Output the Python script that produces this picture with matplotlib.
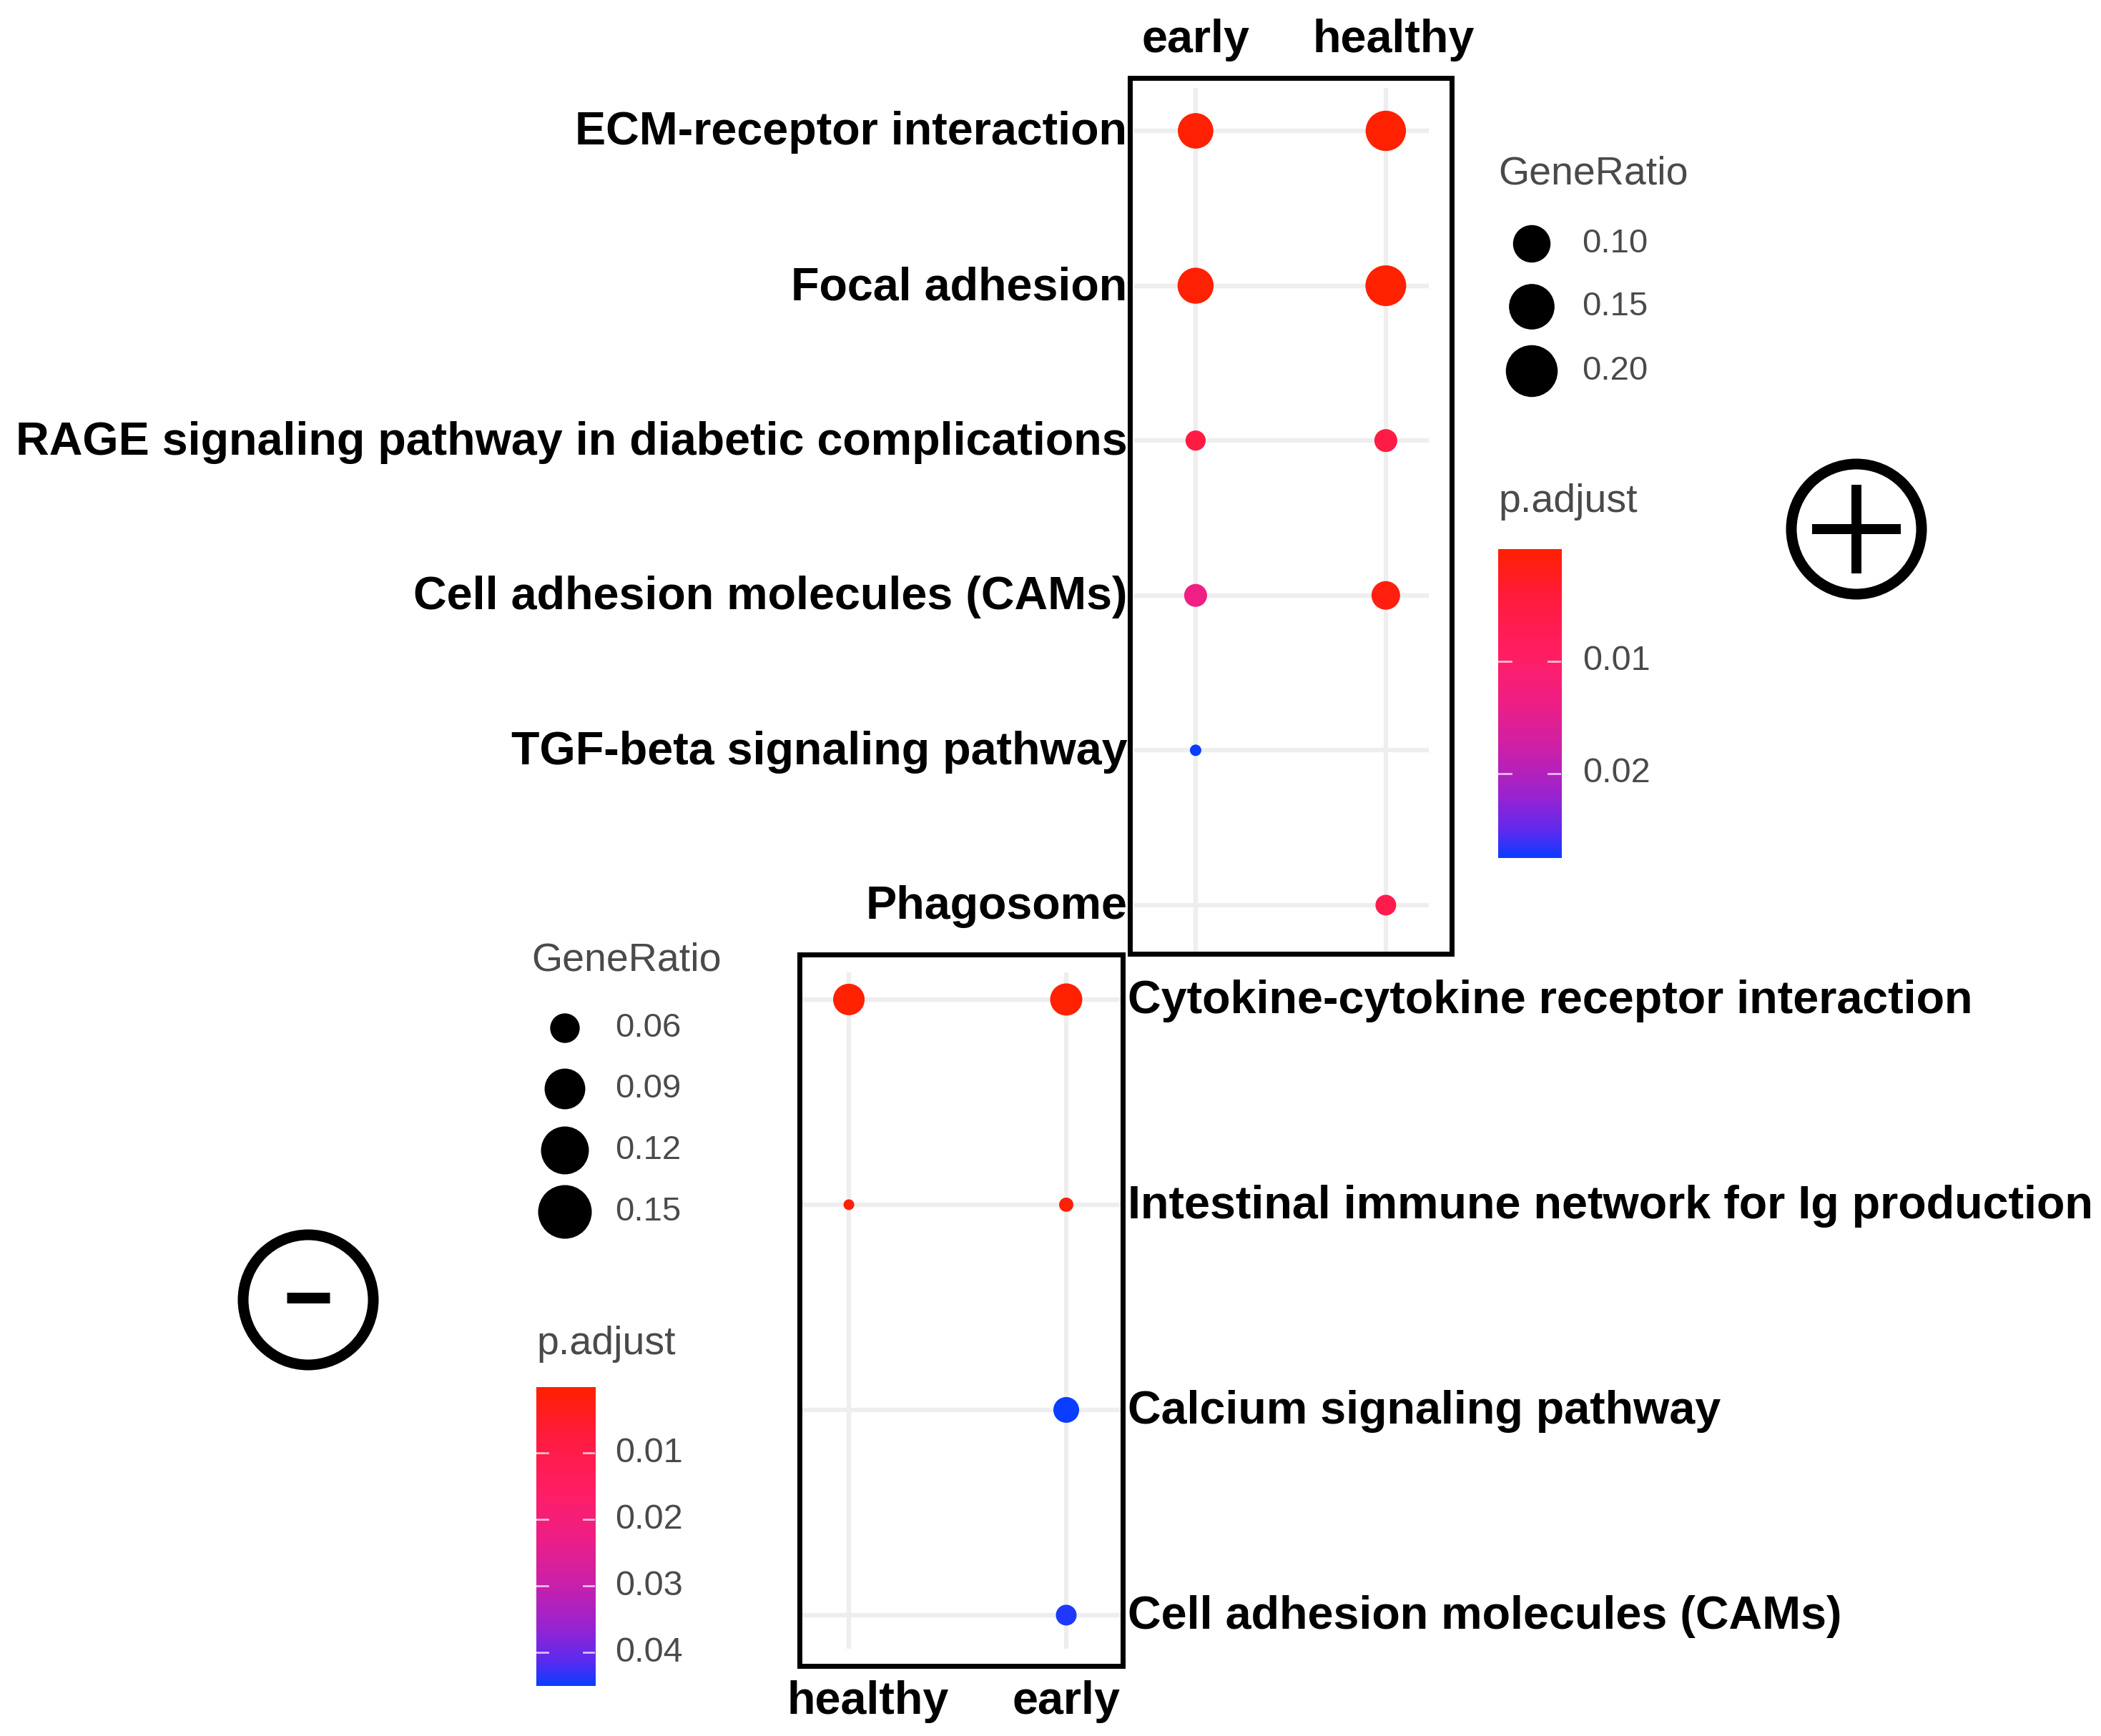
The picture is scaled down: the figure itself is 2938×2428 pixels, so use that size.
import numpy as np
import matplotlib
matplotlib.use("Agg")
import matplotlib.pyplot as plt
import matplotlib.transforms as mtransforms
from matplotlib.colors import LinearSegmentedColormap, Normalize
from matplotlib.patches import Rectangle, Circle

plt.rcParams['font.family'] = ['Liberation Sans', 'DejaVu Sans']

W, H, DPI = 2938, 2428, 100
PT = 72 / DPI  # pixels -> points

# ── Up-regulated pathways (top panel, "+") ─────────────
UP_TERMS = ["ECM-receptor interaction", "Focal adhesion",
            "RAGE signaling pathway in diabetic complications",
            "Cell adhesion molecules (CAMs)", "TGF-beta signaling pathway",
            "Phagosome"]
UP_GROUPS = ["early", "healthy"]
UP_TERM = ["ECM-receptor interaction", "ECM-receptor interaction",
           "Focal adhesion", "Focal adhesion",
           "RAGE signaling pathway in diabetic complications",
           "RAGE signaling pathway in diabetic complications",
           "Cell adhesion molecules (CAMs)", "Cell adhesion molecules (CAMs)",
           "TGF-beta signaling pathway", "Phagosome"]
UP_GROUP = ["early", "healthy", "early", "healthy", "early", "healthy",
            "early", "healthy", "early", "healthy"]
UP_RATIO = [0.155, 0.205, 0.160, 0.210, 0.055, 0.066, 0.066, 0.098, 0.040, 0.057]
UP_PADJ = [0.0002, 0.00005, 0.0003, 0.00005, 0.0050, 0.0055,
           0.0135, 0.0012, 0.0275, 0.0065]
UP_SIZE_BREAKS = [0.10, 0.15, 0.20]
UP_PADJ_BREAKS = [0.01, 0.02]

# ── Down-regulated pathways (bottom panel, "-") ────────
DN_TERMS = ["Cytokine-cytokine receptor interaction",
            "Intestinal immune network for Ig production",
            "Calcium signaling pathway", "Cell adhesion molecules (CAMs)"]
DN_GROUPS = ["healthy", "early"]
DN_TERM = ["Cytokine-cytokine receptor interaction",
           "Cytokine-cytokine receptor interaction",
           "Intestinal immune network for Ig production",
           "Intestinal immune network for Ig production",
           "Calcium signaling pathway", "Cell adhesion molecules (CAMs)"]
DN_GROUP = ["healthy", "early", "healthy", "early", "early", "early"]
DN_RATIO = [0.153, 0.160, 0.050, 0.053, 0.104, 0.074]
DN_PADJ = [0.0001, 0.0002, 0.0008, 0.0010, 0.0450, 0.0440]
DN_SIZE_BREAKS = [0.06, 0.09, 0.12, 0.15]
DN_PADJ_BREAKS = [0.01, 0.02, 0.03, 0.04]

# red (low p.adjust) -> blue (high p.adjust)
CMAP = LinearSegmentedColormap.from_list("padj", [
    (0.00, '#FF2100'), (0.15, '#FF1B3A'), (0.35, '#FF1E66'), (0.50, '#EE1F85'),
    (0.65, '#CC20A8'), (0.80, '#9A23D0'), (0.92, '#5A2BF0'), (1.00, '#0A3DFF')])

GRID = '#EEEEEE'
LEG_TXT = '#4A4A4A'
LAB_FS = 46.5


def fbox(l, t, r, b):
    """pixel box (left, top, right, bottom) -> figure fraction rect"""
    return [l / W, 1 - b / H, (r - l) / W, (b - t) / H]


def diam(v, vals, dmin, dmax):
    lo, hi = min(vals), max(vals)
    return dmin + (dmax - dmin) * np.sqrt((np.asarray(v, float) - lo) / (hi - lo))


fig = plt.figure(figsize=(W / DPI, H / DPI), dpi=DPI)


def dot_panel(box, terms, groups, t, g, ratio, padj, dsize, xlim, ylim,
              side, lab_y, lab_dx):
    ax = fig.add_axes(fbox(*box))
    x = [groups.index(v) for v in g]
    y = [terms.index(v) for v in t]
    d = diam(ratio, ratio, *dsize)
    ax.scatter(x, y, s=(d * PT) ** 2, c=padj, cmap=CMAP,
               norm=Normalize(min(padj), max(padj)), linewidths=0, zorder=3)
    ax.set_xlim(*xlim)
    ax.set_ylim(*ylim)
    ax.set_xticks(range(len(groups)))
    ax.set_yticks(range(len(terms)))
    ax.grid(True, color=GRID, lw=4.5)
    ax.set_axisbelow(True)
    for s in ax.spines.values():
        s.set_visible(False)
    ax.tick_params(length=0, labelbottom=False, pad=7)
    if side == 'right':
        ax.yaxis.tick_right()
    ax.set_yticklabels(terms, fontsize=LAB_FS, fontweight='bold')
    for lbl in ax.get_yticklabels():
        lbl.set_transform(lbl.get_transform() +
                          mtransforms.ScaledTranslation(0, 4 / DPI, fig.dpi_scale_trans))
    tr = mtransforms.blended_transform_factory(ax.transData, fig.transFigure)
    for i, grp in enumerate(groups):
        off = mtransforms.ScaledTranslation(lab_dx[i] / DPI, 0, fig.dpi_scale_trans)
        ax.text(i, 1 - lab_y / H, grp, transform=tr + off, ha='center',
                va='baseline', fontsize=LAB_FS, fontweight='bold')
    return ax


def colorbar(box, padj, breaks):
    cax = fig.add_axes(fbox(*box))
    lo, hi = min(padj), max(padj)
    grad = np.linspace(lo, hi, 256)[:, None]
    cax.imshow(grad, cmap=CMAP, norm=Normalize(lo, hi), aspect='auto',
               extent=(0, 1, hi, lo), interpolation='bilinear')
    cax.set_xlim(0, 1)
    cax.set_ylim(hi, lo)
    cax.axis('off')
    tr = mtransforms.blended_transform_factory(cax.transAxes, cax.transData)
    for b in breaks:
        cax.plot([0, 0.2], [b, b], color='white', lw=2, alpha=0.7)
        cax.plot([0.8, 1], [b, b], color='white', lw=2, alpha=0.7)
        cax.text(1.34, b, f"{b:.2f}", transform=tr, va='center', ha='left',
                 fontsize=35, color=LEG_TXT, clip_on=False)


# ── Top panel ─────────────────────────────────────────
dot_panel((1586, 123, 1998, 1332), UP_TERMS, UP_GROUPS, UP_TERM, UP_GROUP,
          UP_RATIO, UP_PADJ, (16, 57), (-0.323, 1.226), (5.305, -0.277),
          'left', 73, (0, 11))
colorbar((2095, 768, 2183, 1200), UP_PADJ, UP_PADJ_BREAKS)

# ── Bottom panel ──────────────────────────────────────
dot_panel((1122, 1360, 1567, 2306), DN_TERMS, DN_GROUPS, DN_TERM, DN_GROUP,
          DN_RATIO, DN_PADJ, (15, 45), (-0.214, 1.25), (3.164, -0.132),
          'right', 2397, (27, 0))
colorbar((750, 1940, 832, 2358), DN_PADJ, DN_PADJ_BREAKS)

# ── Overlay in pixel coordinates: boxes, size legends, +/- marks ──
ov = fig.add_axes([0, 0, 1, 1])
ov.set_xlim(0, W)
ov.set_ylim(H, 0)
ov.axis('off')

for (l, t, r, b) in [(1580, 109, 2030, 1334), (1118, 1335, 1570, 2330)]:
    ov.add_patch(Rectangle((l, t), r - l, b - t, fill=False, ec='black',
                           lw=7 * PT, joinstyle='miter'))


def size_legend(x, title_y, dot_ys, breaks, ratio, dsize, scale):
    ov.text(x - 47, title_y, "GeneRatio", fontsize=40, color=LEG_TXT,
            va='center', ha='left')
    d = diam(breaks, ratio, *dsize) * scale
    ov.scatter([x] * len(breaks), dot_ys, s=(d * PT) ** 2, color='black',
               linewidths=0)
    for yy, b in zip(dot_ys, breaks):
        ov.text(x + 70, yy, f"{b:.2f}", fontsize=34, color=LEG_TXT,
                va='center', ha='left')


size_legend(2142, 244, [341, 429, 519], UP_SIZE_BREAKS, UP_RATIO, (16, 57), 1.3)
ov.text(2095, 702, "p.adjust", fontsize=40, color=LEG_TXT, va='center', ha='left')

size_legend(790, 1344, [1438, 1523, 1609, 1695], DN_SIZE_BREAKS, DN_RATIO,
            (15, 45), 1.72)
ov.text(750, 1880, "p.adjust", fontsize=40, color=LEG_TXT, va='center', ha='left')

# "+" sign
ov.add_patch(Circle((2596, 740), 91, fill=False, ec='black', lw=15 * PT))
ov.plot([2534, 2658], [740, 740], color='black', lw=14 * PT, solid_capstyle='butt')
ov.plot([2596, 2596], [678, 802], color='black', lw=14 * PT, solid_capstyle='butt')
# "-" sign
ov.add_patch(Circle((431, 1818), 91, fill=False, ec='black', lw=15 * PT))
ov.plot([401, 461], [1815, 1815], color='black', lw=15 * PT, solid_capstyle='butt')

fig.savefig("out.png", dpi=DPI)
